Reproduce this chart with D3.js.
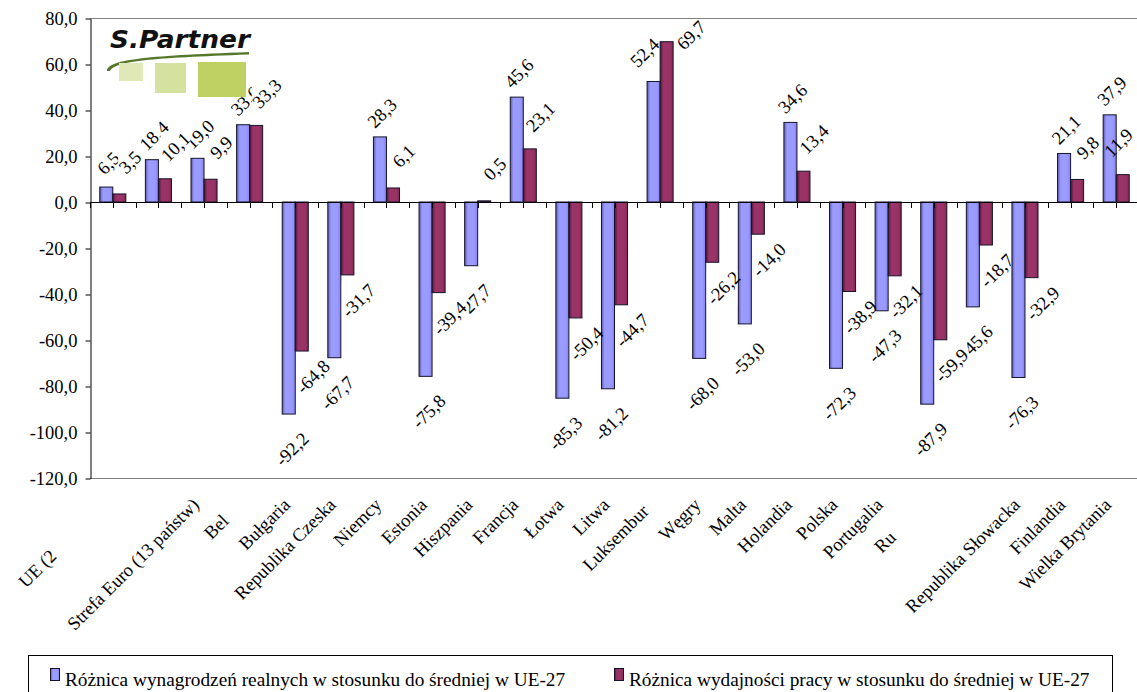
<!DOCTYPE html>
<html>
<head>
<meta charset="utf-8">
<script src="https://cdn.jsdelivr.net/npm/d3@7"></script>
<style>
body { margin: 0; background: #fff; }
svg { display: block; }
text { font-family: "Liberation Serif", "Times New Roman", serif; }
</style>
</head>
<body>
<div id="chart"></div>
<script>
// categories (two of them have no visible label in the original)
const categories = ["UE (25 państw)", "UE (15 państw)", "Strefa Euro (13 państw)", "Belgia", "Bułgaria",
	"Republika Czeska", "Niemcy", "Estonia", "Hiszpania", "Francja", "Łotwa", "Litwa", "Luksemburg",
	"Węgry", "Malta", "Holandia", "Polska", "Portugalia", "Rumunia", "Słowenia", "Republika Słowacka",
	"Finlandia", "Wielka Brytania"];
// what is actually readable under the axis (the rest is cut off)
const shownLabels = ["UE (2", "", "Strefa Euro (13 państw)", "Bel", "Bułgaria",
	"Republika Czeska", "Niemcy", "Estonia", "Hiszpania", "Francja", "Łotwa", "Litwa", "Luksembur",
	"Węgry", "Malta", "Holandia", "Polska", "Portugalia", "Ru", "", "Republika Słowacka",
	"Finlandia", "Wielka Brytania"];
const wages = [6.5, 18.4, 19.0, 33.6, -92.2, -67.7, 28.3, -75.8, -27.7, 45.6, -85.3, -81.2, 52.4,
	-68.0, -53.0, 34.6, -72.3, -47.3, -87.9, -45.6, -76.3, 21.1, 37.9];
const productivity = [3.5, 10.1, 9.9, 33.3, -64.8, -31.7, 6.1, -39.4, 0.5, 23.1, -50.4, -44.7, 69.7,
	-26.2, -14.0, 13.4, -38.9, -32.1, -59.9, -18.7, -32.9, 9.8, 11.9];
const seriesNames = ["Różnica wynagrodzeń realnych w stosunku do średniej w UE-27",
	"Różnica wydajności pracy w stosunku do średniej w UE-27"];
const yTicks = [-120, -100, -80, -60, -40, -20, 0, 20, 40, 60, 80];

const width = 1137;
const height = 692;
const plot = { left: 90, right: 1139, top: 18, bottom: 478 };
const fontSize = 18.5;
const serif = '"Liberation Serif", "Times New Roman", serif';

const locale = d3.formatLocale({ decimal: ",", thousands: " ", grouping: [3], currency: ["", ""], minus: "-" });
const fmt = locale.format(".1f");

const series = [
	{ key: "wages", name: seriesNames[0], values: wages, grad: "gBlue" },
	{ key: "prod", name: seriesNames[1], values: productivity, grad: "gRed" },
];

const svg = d3.select("#chart").append("svg")
	.attr("width", width)
	.attr("height", height);

const x0 = d3.scaleBand().domain(categories).range([plot.left, plot.right]);
const x1 = d3.scaleBand().domain(series.map(s => s.key)).range([0, x0.bandwidth()]).paddingOuter(0.75);
const y = d3.scaleLinear().domain([-120, 80]).range([plot.bottom, plot.top]);

const barX = (s, i) => x0(categories[i]) + x1(s.key);
const barY = d => y(Math.max(0, d));
const barH = d => Math.max(1, Math.abs(y(d) - y(0)));

// bar shading
const defs = svg.append("defs");
const grads = [
	{ id: "gBlue", stops: ["#5c5cb0", "#9c9cff", "#9999ff", "#8585e6"] },
	{ id: "gRed", stops: ["#4e1533", "#9a3468", "#993366", "#80294f"] },
];
for (const g of grads) {
	defs.append("linearGradient")
		.attr("id", g.id)
		.attr("x1", "0%").attr("x2", "100%").attr("y1", "0%").attr("y2", "0%")
		.selectAll("stop")
		.data(g.stops)
		.enter().append("stop")
		.attr("offset", (d, i) => [0, 0.25, 0.75, 1][i])
		.attr("stop-color", d => d);
}
// label backgrounds must not eat into the bars
const mask = defs.append("mask")
	.attr("id", "noBars")
	.attr("maskUnits", "userSpaceOnUse")
	.attr("x", 0).attr("y", 0).attr("width", width).attr("height", height);
mask.append("rect").attr("width", width).attr("height", height).attr("fill", "#fff");
for (const s of series) {
	mask.selectAll(null)
		.data(s.values)
		.enter().append("rect")
		.attr("fill", "#000")
		.attr("x", (d, i) => barX(s, i) - 1)
		.attr("width", x1.bandwidth() + 2)
		.attr("y", d => barY(d) - 1)
		.attr("height", d => barH(d) + 2);
}

// plot frame (top / bottom)
svg.append("g")
	.attr("stroke", "#808080")
	.selectAll("line")
	.data([plot.top, plot.bottom])
	.enter().append("line")
	.attr("x1", plot.left).attr("x2", width)
	.attr("y1", d => d + 0.5).attr("y2", d => d + 0.5);

// bars
for (const s of series) {
	svg.append("g")
		.attr("fill", `url(#${s.grad})`)
		.attr("stroke", "#14142a")
		.attr("stroke-width", 1)
		.selectAll("rect")
		.data(s.values)
		.enter().append("rect")
		.attr("x", (d, i) => barX(s, i))
		.attr("width", x1.bandwidth())
		.attr("y", barY)
		.attr("height", barH);
}

// data labels: each has an opaque (unrotated) box, drawn series after series
const labelOffset = {
	wages: { pos: [2, -24], neg: [3, 35] },
	prod: { pos: [10.5, -32], neg: [11, 25.5] },
};
const labelLayers = series.map(s => {
	const bgLayer = svg.append("g").attr("mask", "url(#noBars)");
	const txLayer = svg.append("g")
		.style("font-family", serif)
		.attr("font-size", fontSize);
	const texts = txLayer.selectAll("text")
		.data(s.values)
		.enter().append("text")
		.attr("text-anchor", "middle")
		.attr("dy", "0.35em")
		.text(d => fmt(d));
	const bgs = bgLayer.selectAll("rect")
		.data(s.values)
		.enter().append("rect")
		.attr("fill", "#fff");
	return { texts, bgs };
});
// where each label sits; a label pushed down from the top also nudges its neighbour
const pushed = new Set();
[1, 0].forEach(si => {
	const s = series[si];
	const bgNodes = labelLayers[si].bgs.nodes();
	labelLayers[si].texts.each(function (d, i) {
		const w = this.getComputedTextLength();
		const side = (w + 10) * Math.SQRT1_2;
		const half = side / 2;
		const extent = (w + fontSize) * Math.SQRT1_2 / 2;
		const cx = barX(s, i) + x1.bandwidth() / 2;
		const off = d >= 0 ? labelOffset[s.key].pos : labelOffset[s.key].neg;
		let lx = cx + off[0];
		let ly = y(d) + off[1];
		// keep labels inside the chart like the original does
		const push = Math.max(0, plot.top + half + 2 - ly);
		if (push > 0) pushed.add(i);
		ly += push;
		lx += push * 0.55;
		if (si === 0 && pushed.has(i)) {
			lx -= 11;
			ly -= 5;
		}
		lx = Math.min(lx, width - extent - 1);
		d3.select(this).attr("transform", `translate(${lx}, ${ly}) rotate(-45)`);
		d3.select(bgNodes[i])
			.attr("x", lx - half)
			.attr("y", ly - half)
			.attr("width", side)
			.attr("height", side);
	});
});

// y axis
const yAxis = svg.append("g")
	.attr("transform", `translate(${plot.left + 0.5}, 0.5)`)
	.call(d3.axisLeft(y).tickValues(yTicks).tickFormat(fmt).tickSize(5).tickSizeOuter(0).tickPadding(8));
yAxis.select(".domain").attr("stroke", "#000");
yAxis.selectAll("line").attr("stroke", "#000");
yAxis.selectAll("text")
	.style("font-family", serif)
	.attr("font-size", fontSize)
	.attr("fill", "#000");

// zero line + category ticks
svg.append("line")
	.attr("x1", plot.left).attr("x2", width)
	.attr("y1", y(0) + 0.5).attr("y2", y(0) + 0.5)
	.attr("stroke", "#000");
const tickXs = d3.range(categories.length + 1).map(i => plot.left + i * x0.step())
	.concat(categories.map(c => x0(c) + x0.bandwidth() / 2));
svg.append("g")
	.attr("stroke", "#000")
	.selectAll("line")
	.data(tickXs)
	.enter().append("line")
	.attr("x1", d => Math.round(d) + 0.5).attr("x2", d => Math.round(d) + 0.5)
	.attr("y1", y(0)).attr("y2", y(0) + 6);

// category labels, hidden tail kept transparent so the text ends at the tick
const catLabels = svg.append("g")
	.style("font-family", serif)
	.attr("font-size", fontSize)
	.selectAll("text")
	.data(categories)
	.enter().append("text")
	.attr("text-anchor", "end")
	.attr("transform", d => `translate(${x0(d) + x0.bandwidth() / 2 - 4}, 506) rotate(-45)`);
catLabels.each(function (d, i) {
	const t = d3.select(this);
	const shown = shownLabels[i];
	t.append("tspan").text(shown);
	t.append("tspan").attr("fill-opacity", 0).text(d.slice(shown.length));
});

// logo
const logo = svg.append("g");
logo.append("text")
	.attr("x", 110).attr("y", 48)
	.style("font-family", "DejaVu Sans")
	.attr("font-weight", "bold")
	.attr("font-style", "italic")
	.attr("font-size", 25)
	.attr("textLength", 140)
	.attr("lengthAdjust", "spacingAndGlyphs")
	.attr("fill", "#111")
	.text("S.Partner");
logo.append("path")
	.attr("d", "M107,71 C108,60 140,56 249,52 L249,54.5 C150,58 116,61 110,71 Z")
	.attr("fill", "#55772a");
logo.selectAll("rect")
	.data([
		{ x: 119, y: 63, w: 24, h: 18, c: "#dfe8b6" },
		{ x: 155, y: 63, w: 31, h: 30, c: "#d5e19e" },
		{ x: 198, y: 62, w: 48, h: 35, c: "#bfd162" },
	])
	.enter().append("rect")
	.attr("x", d => d.x).attr("y", d => d.y)
	.attr("width", d => d.w).attr("height", d => d.h)
	.attr("fill", d => d.c);

// legend
const legend = svg.append("g");
legend.append("rect")
	.attr("x", 28.5).attr("y", 655.5)
	.attr("width", 1084).attr("height", 45)
	.attr("fill", "none")
	.attr("stroke", "#000");
const items = legend.selectAll("g")
	.data(series)
	.enter().append("g")
	.attr("transform", (d, i) => `translate(${[50, 614][i]}, 0)`);
items.append("rect")
	.attr("x", 0.5).attr("y", 668.5)
	.attr("width", 9).attr("height", 12)
	.attr("fill", d => `url(#${d.grad})`)
	.attr("stroke", "#14142a");
items.append("text")
	.attr("x", 15).attr("y", 686)
	.style("font-family", serif)
	.attr("font-size", 19.3)
	.text(d => d.name);
</script>
</body>
</html>
